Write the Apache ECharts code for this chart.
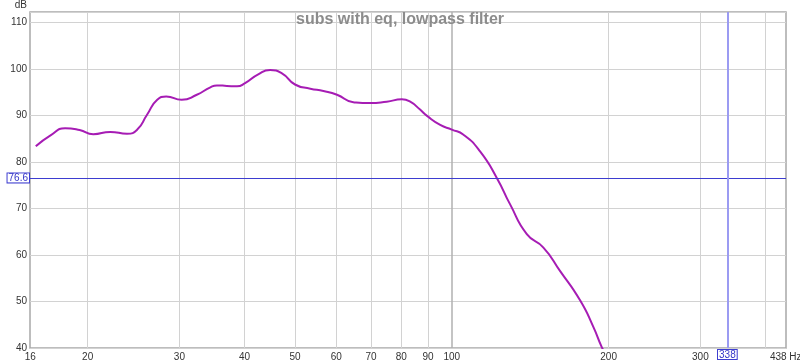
<!DOCTYPE html>
<html>
<head>
<meta charset="utf-8">
<script src="https://cdn.jsdelivr.net/npm/echarts@6/dist/echarts.min.js"></script>
<style>
html,body{margin:0;padding:0;background:#fff;}
#chart{width:800px;height:363px;}
</style>
</head>
<body>
<div id="chart"></div>
<script>
const titleText = 'subs with eq, lowpass filter';
const freqs = [15.9, 17, 18.1, 19.3, 20.5, 22.1, 23.8, 24.9, 26.0, 27.2, 28.3, 30.3, 32.4, 34.4, 35.4, 37, 38.7, 40.1, 42.5, 44.8, 47.2, 50, 53.5, 56.7, 60.2, 64.7, 69.7, 75, 80.2, 83.2, 86.9, 89.5, 95, 100, 105.3, 113.3, 122, 129.4, 139.3, 149.9, 161.3, 176.4, 187, 194, 197];
const splValues = [83.4, 85.8, 87.3, 86.9, 86.0, 86.5, 86.1, 87.0, 90.2, 93.4, 94.1, 93.4, 94.5, 96.1, 96.5, 96.4, 96.3, 97.0, 98.9, 99.8, 99.1, 96.7, 95.8, 95.3, 94.5, 92.9, 92.7, 93.0, 93.5, 93.0, 91.3, 90.0, 88.0, 87.0, 85.9, 82.3, 76.6, 70.9, 64.5, 61.6, 56.6, 50.2, 44.5, 40.2, 39.0];
const gridFreqs = [20, 30, 40, 50, 60, 70, 80, 90, 100, 200, 300, 400];
const gridLabels = ['20', '30', '40', '50', '60', '70', '80', '90', '100', '200', '300', ''];
const xMin = 15.5, xMax = 438;
const edgeFreqs = [15.52, 437.5];
const edgeLabels = ['16', '438 Hz'];
const yMin = 40, yMax = 112.3, yInterval = 10;
const cursorY = 76.6;
const cursorX = 338;

const FONT = 'Liberation Sans, Arial, sans-serif';
const chart = echarts.init(document.getElementById('chart'), null, {renderer: 'canvas'});

const gridLineData = gridFreqs.map((f, i) => ({
  xAxis: f,
  lineStyle: {color: f === 100 ? '#b0b0b0' : '#d2d2d2', width: f === 100 ? 1.5 : 1, type: 'solid'},
  label: {show: gridLabels[i] !== '', formatter: gridLabels[i]}
}));
edgeFreqs.forEach((f, i) => {
  gridLineData.push({xAxis: f, lineStyle: {color: 'rgba(0,0,0,0)', width: 0}, label: {show: true, formatter: edgeLabels[i]}});
});

chart.setOption({
  animation: false,
  backgroundColor: '#fff',
  title: {
    text: titleText,
    left: 'center',
    top: 12,
    padding: 0,
    textStyle: {color: '#8c8c8c', fontSize: 16, fontWeight: 'bold', fontFamily: FONT}
  },
  grid: {left: 30, right: 14, top: 10, bottom: 15, show: true, borderColor: '#a8a8a8', borderWidth: 1.5, backgroundColor: 'transparent'},
  xAxis: {
    type: 'log', logBase: 10, min: xMin, max: xMax,
    axisLine: {show: false}, axisTick: {show: false}, axisLabel: {show: false}, splitLine: {show: false}
  },
  yAxis: {
    type: 'value', min: yMin, max: yMax, interval: yInterval,
    name: 'dB', nameLocation: 'end', nameGap: 2,
    nameTextStyle: {color: '#333', fontSize: 10, fontFamily: FONT, align: 'right', padding: [0, 3, 0, 0]},
    axisLine: {show: false}, axisTick: {show: false},
    axisLabel: {color: '#333', fontSize: 10, fontFamily: FONT, margin: 3, showMaxLabel: false},
    splitLine: {show: true, lineStyle: {color: '#d2d2d2', width: 1}}
  },
  series: [
    {
      type: 'line', data: [], z: 1, silent: true,
      markLine: {
        silent: true, symbol: 'none', animation: false, z: 1,
        label: {position: 'start', distance: 4, color: '#333', fontSize: 10, fontFamily: FONT},
        data: gridLineData
      }
    },
    {
      type: 'line',
      data: freqs.map((f, i) => [f, splValues[i]]),
      smooth: 0.55, symbol: 'none', clip: true, z: 3,
      lineStyle: {color: '#a61cb4', width: 2},
      markLine: {
        silent: true, symbol: 'none', animation: false, z: 4,
        data: [
          {yAxis: cursorY, lineStyle: {color: '#3d3dd0', width: 1, type: 'solid'},
           label: {show: true, position: 'start', distance: 1, formatter: String(cursorY), color: '#3535c8', fontSize: 10, fontFamily: FONT,
                   backgroundColor: '#fff', borderColor: '#3d3dd0', borderWidth: 1, padding: [0, 1, -1, 1]}},
          {xAxis: cursorX, lineStyle: {color: '#9b9bf2', width: 2, type: 'solid'},
           label: {show: true, position: 'start', distance: 2, formatter: String(cursorX), color: '#3535c8', fontSize: 10, fontFamily: FONT,
                   backgroundColor: '#fff', borderColor: '#3d3dd0', borderWidth: 1, padding: [0, 1, -1, 1]}}
        ]
      }
    }
  ]
});
</script>
</body>
</html>
